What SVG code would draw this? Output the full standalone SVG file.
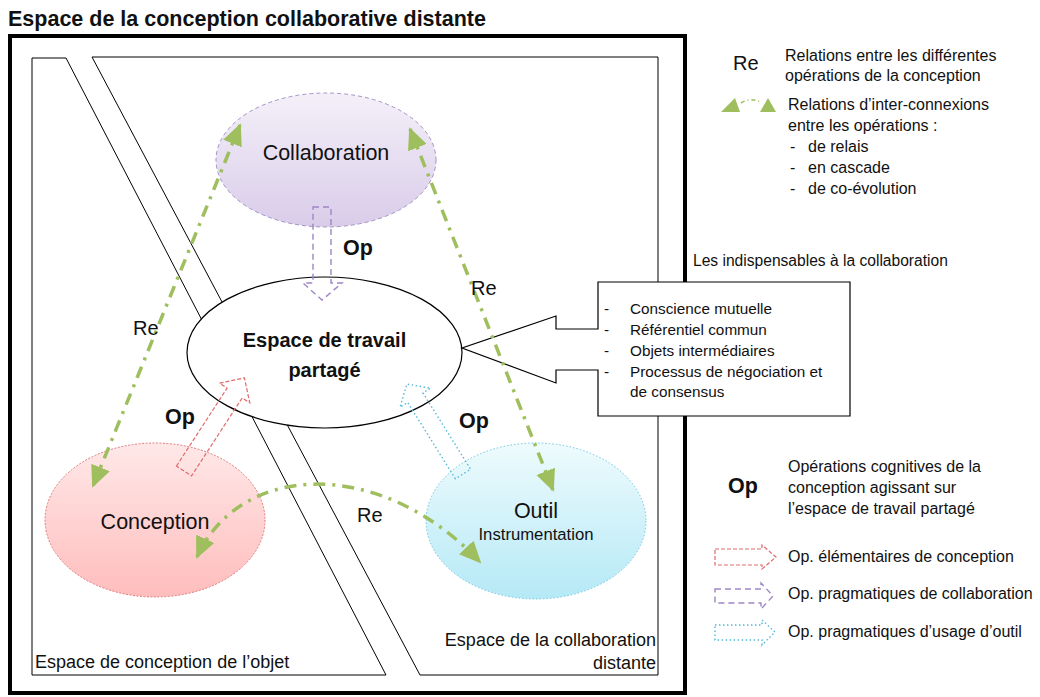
<svg xmlns="http://www.w3.org/2000/svg" width="1040" height="697" viewBox="0 0 1040 697">
<style>
text{font-family:"Liberation Sans",Arial,sans-serif;fill:#111}
.t{font-size:16px}
.c{font-size:15.3px}
.b{font-weight:bold}
.lab{font-size:18px}
.node{font-size:21.5px}
.re{font-size:20px}
.op{font-size:21.5px;font-weight:bold}
.zone{fill:#fff;stroke:#000;stroke-width:1}
.green{fill:none;stroke:#9fbf5e;stroke-width:3.5;stroke-dasharray:12 7 3 7}
.ar-red{fill:none;stroke:#e06a6a;stroke-width:1.2;stroke-dasharray:4 2}
.ar-pur{fill:none;stroke:#9d86c6;stroke-width:1.4;stroke-dasharray:6 4}
.ar-cy{fill:none;stroke:#55b8da;stroke-width:1.4;stroke-dasharray:1.5 2.5}
</style>
<defs>
<linearGradient id="gPur" x1="0" y1="0" x2="0" y2="1"><stop offset="0" stop-color="#f4f0f9"/><stop offset="1" stop-color="#d9cce9"/></linearGradient>
<linearGradient id="gPink" x1="0" y1="0" x2="0" y2="1"><stop offset="0" stop-color="#ffe8e8"/><stop offset="1" stop-color="#ffbdbd"/></linearGradient>
<linearGradient id="gCy" x1="0" y1="0" x2="0" y2="1"><stop offset="0" stop-color="#eefbfd"/><stop offset="1" stop-color="#b5e9f6"/></linearGradient>
<marker id="gh" viewBox="0 0 22 20" markerWidth="22" markerHeight="20" refX="20" refY="10" markerUnits="userSpaceOnUse" orient="auto-start-reverse"><path d="M0,0 L22,10 L0,20 Z" fill="#9fbf5e"/></marker>
</defs>
<rect width="1040" height="697" fill="#fff"/>
<text x="8" y="26" class="b" style="font-size:21.5px">Espace de la conception collaborative distante</text>
<rect id="frame" x="10" y="36" width="675" height="657" fill="#fff" stroke="#000" stroke-width="4"/>
<g id="zone-objet"><polygon class="zone" points="32,58 66,58 386,675 32,675"/><text x="35" y="668" class="lab">Espace de conception de l’objet</text></g>
<g id="zone-collab"><polygon class="zone" points="92,57 658,57 658,675 420,675"/><text x="656" y="646" class="lab" text-anchor="end">Espace de la collaboration</text><text x="656" y="669" class="lab" text-anchor="end">distante</text></g>
<g id="n-collaboration"><ellipse cx="326" cy="160" rx="110" ry="67" fill="url(#gPur)" stroke="#a493c6" stroke-width="1" stroke-dasharray="4 3"/><text x="326" y="160" class="node" text-anchor="middle">Collaboration</text></g>
<g id="n-espace"><ellipse cx="324.5" cy="352.5" rx="137.5" ry="75.5" fill="#fff" stroke="#000" stroke-width="1.2"/><text x="324.5" y="347" class="b" style="font-size:20px" text-anchor="middle">Espace de travail</text><text x="324.5" y="377" class="b" style="font-size:20px" text-anchor="middle">partagé</text></g>
<g id="n-conception"><ellipse cx="155" cy="520" rx="110" ry="77" fill="url(#gPink)" stroke="#e07a7a" stroke-width="1" stroke-dasharray="2 1.5"/><text x="155" y="529" class="node" text-anchor="middle">Conception</text></g>
<g id="n-outil"><ellipse cx="536" cy="521" rx="110" ry="78" fill="url(#gCy)" stroke="#6cc6e3" stroke-width="1" stroke-dasharray="1.5 2"/><text x="536" y="518" class="node" text-anchor="middle">Outil</text><text x="536" y="540" style="font-size:16.7px" text-anchor="middle">Instrumentation</text></g>
<g id="callout"><path d="M598,282 H850 V416 H598 V370 H556 V383 L462,348 L556,316 V329 H598 Z" fill="#fff" stroke="#000" stroke-width="1.2"/>
<g class="c"><text x="604" y="314">-</text><text x="630" y="314">Conscience mutuelle</text>
<text x="604" y="335">-</text><text x="630" y="335">Référentiel commun</text>
<text x="604" y="356">-</text><text x="630" y="356">Objets intermédiaires</text>
<text x="604" y="377">-</text><text x="630" y="377">Processus de négociation et</text>
<text x="630" y="397">de consensus</text></g></g>
<text x="693" y="266" style="font-size:15.6px">Les indispensables à la collaboration</text>
<g id="connectors">
<path class="ar-pur" d="M313,207 H331 V283 H342 L322,300 L303,283 H313 Z"/>
<path class="ar-red" transform="translate(184,471) rotate(-57)" d="M0,-9 H93 V-18 L111,0 L93,18 V9 H0 Z"/>
<path class="ar-cy" transform="translate(463,474) rotate(-122)" d="M0,-9 H90 V-18 L106,0 L90,18 V9 H0 Z"/>
<path class="green" d="M240,125 L93,486" marker-start="url(#gh)" marker-end="url(#gh)"/>
<path class="green" d="M410,129 L553,490" marker-start="url(#gh)" marker-end="url(#gh)"/>
<path class="green" d="M197,557 C240,462 380,456 480,562" marker-start="url(#gh)" marker-end="url(#gh)"/>
</g>
<g id="labels">
<text x="343" y="255" class="op">Op</text>
<text x="165" y="424" class="op">Op</text>
<text x="459" y="428" class="op">Op</text>
<text x="133" y="335" class="re">Re</text>
<text x="471" y="295" class="re">Re</text>
<text x="357" y="522" class="re">Re</text>
</g>
<g id="legend">
<text x="733" y="70" class="re">Re</text>
<text x="785" y="61" class="t">Relations entre les différentes</text>
<text x="785" y="81" class="t">opérations de la conception</text>
<polygon points="721,112 735,98 740,112" fill="#9fbf5e"/>
<polygon points="760,112 768,98 776,112" fill="#9fbf5e"/>
<path d="M741,103 Q751,97 760,102" fill="none" stroke="#9fbf5e" stroke-width="1.5" stroke-dasharray="4 3 1 3"/>
<text x="788" y="110" class="t">Relations d’inter-connexions</text>
<text x="788" y="131" class="t">entre les opérations :</text>
<text x="790" y="152" class="t">-</text><text x="808" y="152" class="t">de relais</text>
<text x="790" y="173" class="t">-</text><text x="808" y="173" class="t">en cascade</text>
<text x="790" y="194" class="t">-</text><text x="808" y="194" class="t">de co-évolution</text>
<text x="728" y="493" class="op">Op</text>
<text x="788" y="472" class="t">Opérations cognitives de la</text>
<text x="788" y="493" class="t">conception agissant sur</text>
<text x="788" y="514" class="t">l’espace de travail partagé</text>
<path class="ar-red" d="M715,549 H762 V545 L776,557 L762,569 V565 H715 Z"/>
<text x="788" y="562" class="t">Op. élémentaires de conception</text>
<path class="ar-pur" d="M715,589 H761 V583 L773,596 L761,609 V603 H715 Z"/>
<text x="788" y="599" class="t">Op. pragmatiques de collaboration</text>
<path class="ar-cy" d="M715,625 H762 V620 L775,632 L762,645 V640 H715 Z"/>
<text x="788" y="637" class="t">Op. pragmatiques d’usage d’outil</text>
</g>
</svg>
